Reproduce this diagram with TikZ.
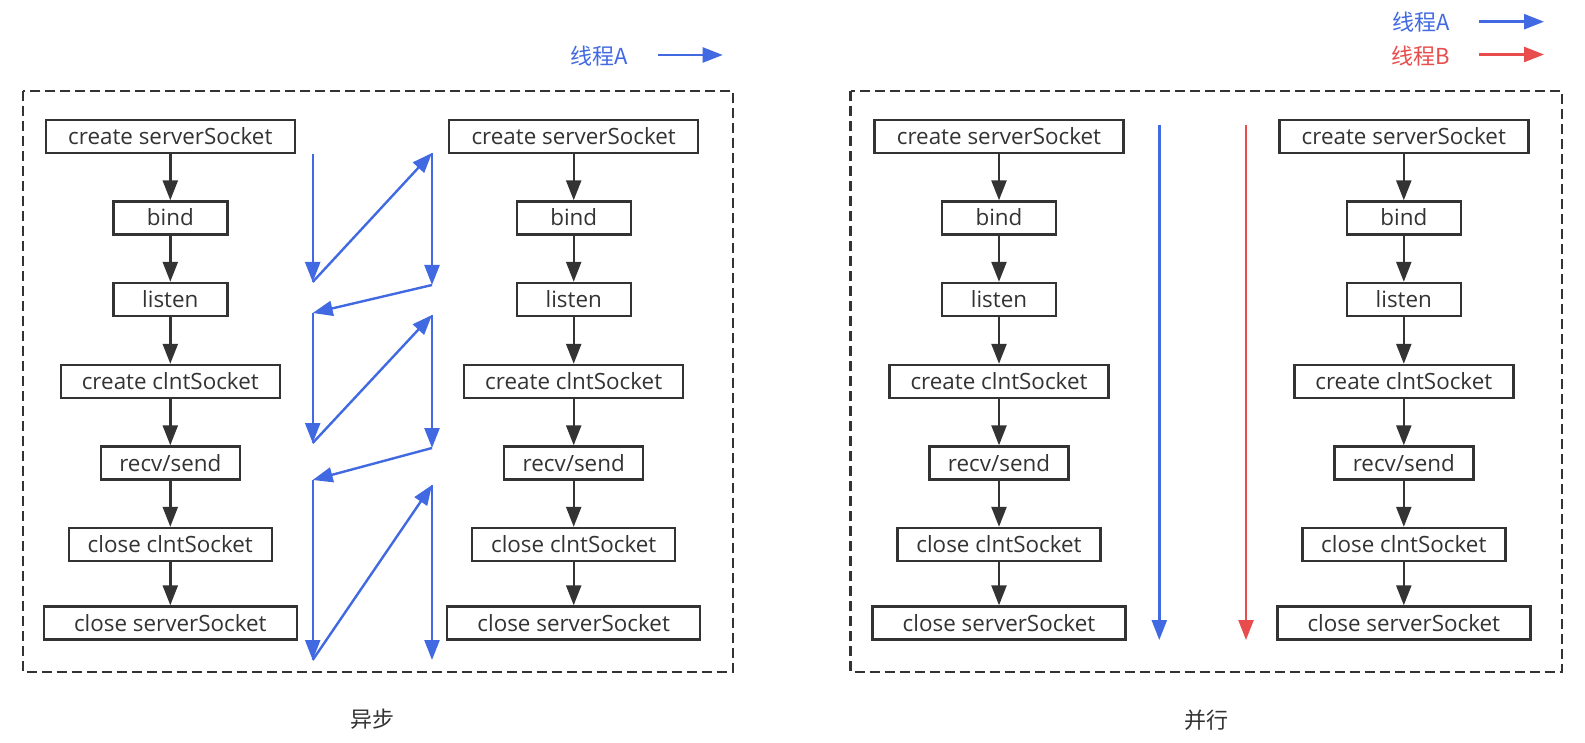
\documentclass[tikz,border=0pt]{standalone}
\usepackage{fontspec}
\setmainfont{Open Sans}
\newfontfamily\cjk{Noto Sans CJK SC}
\usetikzlibrary{arrows.meta}
\definecolor{tblue}{RGB}{65,105,225}
\definecolor{tred}{RGB}{232,76,76}
\definecolor{dark}{RGB}{51,51,51}
\tikzset{
 box/.style={draw=dark,line width=2.4pt,minimum height=33pt,inner sep=0pt,text=dark,
   text height=18pt,text depth=2pt,font=\fontsize{22.4}{26}\selectfont},
 flow/.style={draw=dark,line width=2.4pt,-{Triangle[length=20pt,width=15pt]}},
 barrow/.style={draw=tblue,fill=tblue,line width=2.4pt,-{Triangle[length=20pt,width=15pt]}},
 rarrow/.style={draw=tred,fill=tred,line width=2.4pt,-{Triangle[length=20pt,width=15pt]}},
 panel/.style={draw=dark,line width=2.4pt,dash pattern=on 10pt off 5pt},
 lbl/.style={inner sep=0pt,font=\cjk\fontsize{22}{26}\selectfont},
}
\newcommand\flowcol[2]{%
 \node[box,minimum width=249pt] (#1a) at (#2,136.5) {create serverSocket};
 \node[box,minimum width=114pt] (#1b) at (#2,218) {bind};
 \node[box,minimum width=114pt] (#1c) at (#2,299.5) {listen};
 \node[box,minimum width=219pt] (#1d) at (#2,381.5) {create clntSocket};
 \node[box,minimum width=139pt] (#1e) at (#2,463) {recv/send};
 \node[box,minimum width=203pt] (#1f) at (#2,544.5) {close clntSocket};
 \node[box,minimum width=253pt] (#1g) at (#2,623) {close serverSocket};
 \draw[flow] (#1a) -- (#1b);
 \draw[flow] (#1b) -- (#1c);
 \draw[flow] (#1c) -- (#1d);
 \draw[flow] (#1d) -- (#1e);
 \draw[flow] (#1e) -- (#1f);
 \draw[flow] (#1f) -- (#1g);
}
\begin{document}
\begin{tikzpicture}[x=1pt,y=-1pt]
\useasboundingbox[fill=white] (0,0) rectangle (1585,743);
% panels
\draw[panel] (22.7,91) rectangle (733,672);
\draw[panel] (850.5,91) rectangle (1561.7,672);
% columns
\flowcol{L}{170.3}
\flowcol{M}{573.7}
\flowcol{P}{999}
\flowcol{Q}{1403.8}
% async arrows (left panel)
\coordinate (p1) at (312.7,154);
\coordinate (p2) at (312.7,282);
\coordinate (p3) at (432,153);
\coordinate (p4) at (432,285);
\coordinate (p5) at (312.7,313);
\coordinate (p6) at (312.7,443);
\coordinate (p7) at (432,315);
\coordinate (p8) at (432,448);
\coordinate (p9) at (312.7,480);
\coordinate (p10) at (312.7,660);
\coordinate (p11) at (432,485);
\coordinate (p12) at (432,660);
\draw[barrow] (p1) -- (p2);
\draw[barrow] (p2) -- (p3);
\draw[barrow] (p3) -- (p4);
\draw[barrow] (p4) -- (p5);
\draw[barrow] (p5) -- (p6);
\draw[barrow] (p6) -- (p7);
\draw[barrow] (p7) -- (p8);
\draw[barrow] (p8) -- (p9);
\draw[barrow] (p9) -- (p10);
\draw[barrow] (p10) -- (p11);
\draw[barrow] (p11) -- (p12);
% parallel arrows (right panel)
\coordinate (ba) at (1159.3,125);
\coordinate (bb) at (1159.3,640);
\coordinate (ra) at (1246,125);
\coordinate (rb) at (1246,640);
\draw[barrow] (ba) -- (bb);
\draw[rarrow] (ra) -- (rb);
% legends
\node[lbl,text=tblue] (lga) at (599,56) {线程A};
\coordinate (lga1) at (658,55);
\coordinate (lga2) at (722.7,55);
\draw[barrow] (lga1) -- (lga2);
\node[lbl,text=tblue] (rga) at (1421,22.5) {线程A};
\coordinate (rga1) at (1479.3,21.7);
\coordinate (rga2) at (1544,21.7);
\draw[barrow] (rga1) -- (rga2);
\node[lbl,text=tred] (rgb) at (1421,56) {线程B};
\coordinate (rgb1) at (1479.3,54.5);
\coordinate (rgb2) at (1544,54.5);
\draw[rarrow] (rgb1) -- (rgb2);
% captions
\node[lbl,text=dark] (c1) at (372.7,719.5) {异步};
\node[lbl,text=dark] (c2) at (1206.7,720) {并行};
\end{tikzpicture}
\end{document}
